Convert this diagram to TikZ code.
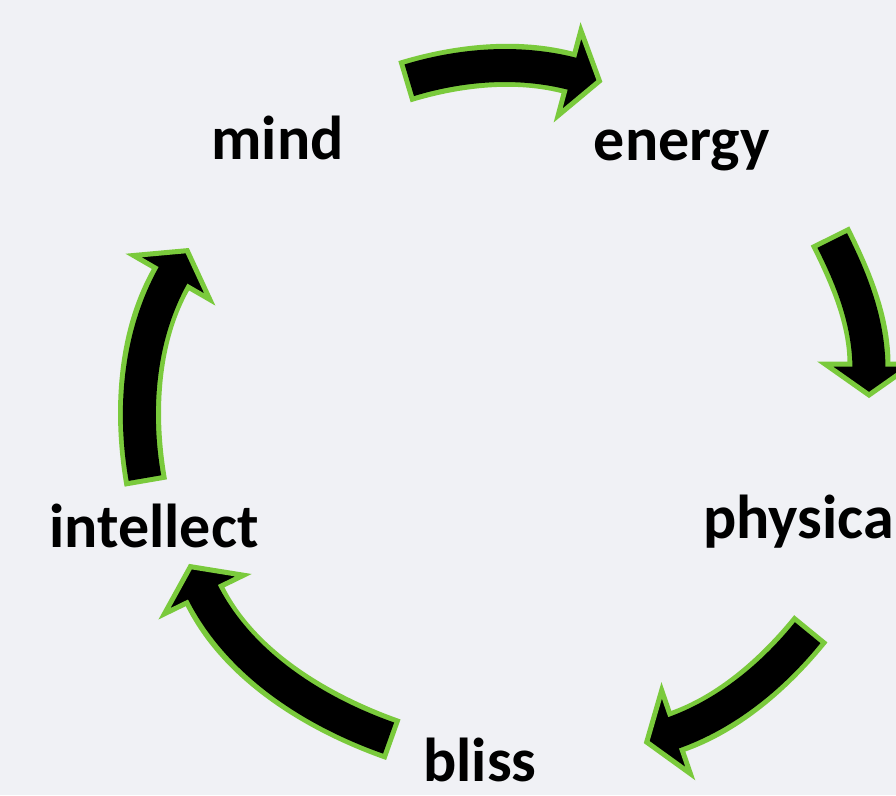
\documentclass[tikz,border=0pt]{standalone}
\usepackage{fontspec}
\setmainfont{Carlito}
\usetikzlibrary{calc}
\definecolor{bgc}{RGB}{240,241,245}
\definecolor{arrgreen}{RGB}{122,202,60}
\tikzset{
  label/.style={font=\fontsize{62}{74}\selectfont\bfseries, text=black, inner sep=0pt, anchor=base},
  shaftout/.style={draw=arrgreen, line width=43pt, line cap=butt, looseness=0.85},
  shaftin/.style={draw=black, line width=33pt, line cap=butt, looseness=0.85, shorten <=5pt, shorten >=-6pt},
  headshape/.style={draw=arrgreen, fill=black, line width=5pt, line join=miter}
}
% #1 name, #2 tail, #3 out angle, #4 base, #5 heading
\newcommand\cyclearrow[5]{%
  \coordinate (T#1) at #2;
  \coordinate (B#1) at #4;
  \coordinate (P#1) at ($(B#1)+(#5:31)$);
  \draw[shaftout] (T#1) to[out=#3, in=#5+180] (B#1);
  \path[headshape] ($(B#1)!44pt!90:(P#1)$) -- (P#1) -- ($(B#1)!44pt!-90:(P#1)$) -- cycle;
  \draw[shaftin] (T#1) to[out=#3, in=#5+180] (B#1);
}
\begin{document}
\begin{tikzpicture}[x=1pt,y=1pt]
\useasboundingbox (0,0) rectangle (896,-795);
\clip (0,0) rectangle (896,-795);
\fill[bgc] (0,0) rectangle (896,-795);

\node[label] (mind) at (277.5,-159.3) {mind};
\node[label] (energy) at (681.7,-160) {energy};
\node[label, anchor=base west] (physical) at (703,-538.5) {physical};
\node[label] (bliss) at (480,-781.7) {bliss};
\node[label] (intellect) at (154,-547.5) {intellect};

\cyclearrow{a}{(404.5,-81.7)}{17}{(569.5,-73)}{-15}
\cyclearrow{b}{(830,-236)}{-63.4}{(869,-364)}{-90}
\cyclearrow{c}{(810.8,-628.8)}{231}{(676,-732)}{199}
\cyclearrow{d}{(393.3,-739.7)}{160.6}{(204,-594.5)}{116}
\cyclearrow{e}{(145.8,-483)}{100}{(171.7,-277.5)}{60}
\end{tikzpicture}
\end{document}
